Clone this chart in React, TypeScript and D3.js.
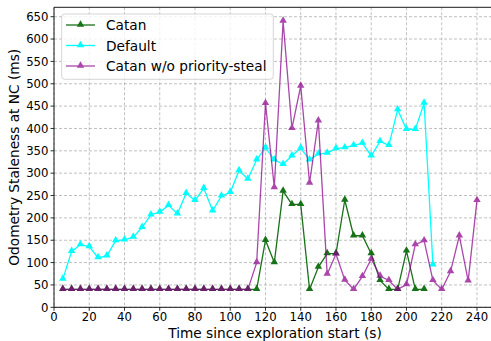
import React from "react";
import * as d3 from "d3";

const catan: [number, number][] = [
  [5, 40], [10, 40], [15, 40], [20, 40], [25, 40], [30, 40], [35, 40], [40, 40], [45, 40], [50, 40],
  [55, 40], [60, 40], [65, 40], [70, 40], [75, 40], [80, 40], [85, 40], [90, 40], [95, 40], [100, 40],
  [105, 40], [110, 40], [115, 40], [120, 150], [125, 100], [130, 260], [135, 230], [140, 230], [145, 40],
  [150, 90], [155, 120], [160, 120], [165, 240], [170, 160], [175, 160], [180, 120], [185, 60], [190, 40],
  [195, 40], [200, 126], [205, 40], [210, 40],
];

const defaultSeries: [number, number][] = [
  [5, 63], [10, 125], [15, 140], [20, 136], [25, 111], [30, 115], [35, 149], [40, 151], [45, 157], [50, 179],
  [55, 207], [60, 213], [65, 228], [70, 209], [75, 255], [80, 239], [85, 266], [90, 216], [95, 249], [100, 257],
  [105, 306], [110, 287], [115, 330], [120, 357], [125, 330], [130, 320], [135, 339], [140, 356], [145, 330],
  [150, 343], [155, 345], [160, 355], [165, 357], [170, 362], [175, 367], [180, 339], [185, 371], [190, 362],
  [195, 442], [200, 398], [205, 398], [210, 457], [215, 95],
];

const noSteal: [number, number][] = [
  [5, 40], [10, 40], [15, 40], [20, 40], [25, 40], [30, 40], [35, 40], [40, 40], [45, 40], [50, 40],
  [55, 40], [60, 40], [65, 40], [70, 40], [75, 40], [80, 40], [85, 40], [90, 40], [95, 40], [100, 40],
  [105, 40], [110, 40], [115, 100], [120, 456], [125, 268], [130, 640], [135, 400], [140, 495], [145, 278],
  [150, 417], [155, 74], [160, 119], [165, 61], [170, 40], [175, 69], [180, 108], [185, 70], [190, 60],
  [195, 40], [200, 51], [205, 140], [210, 149], [215, 60], [220, 40], [225, 80], [230, 160], [235, 59],
  [240, 239],
];

const xTicks: number[] = [0, 20, 40, 60, 80, 100, 120, 140, 160, 180, 200, 220, 240];
const yTicks: number[] = [0, 50, 100, 150, 200, 250, 300, 350, 400, 450, 500, 550, 600, 650];

const seriesNames = ["Catan", "Default", "Catan w/o priority-steal"];

export default function App() {
  const W = 491;
  const H = 341;
  const left = 54;
  const right = 494.6;
  const top = 7.3;
  const bottom = 307.3;
  const font = "'DejaVu Sans', sans-serif";

  const x = d3.scaleLinear().domain([0, 250]).range([left, right]);
  const y = d3.scaleLinear().domain([0, 671]).range([bottom, top]);

  const line = d3
    .line<[number, number]>()
    .x((d) => x(d[0]))
    .y((d) => y(d[1]));

  const series = [
    { name: seriesNames[0], data: catan, color: "#006400", opacity: 0.9 },
    { name: seriesNames[1], data: defaultSeries, color: "#00ffff", opacity: 1 },
    { name: seriesNames[2], data: noSteal, color: "#8b008b", opacity: 0.72 },
  ];

  const tri = d3.symbol().type(d3.symbolTriangle).size(24)() as string;

  return (
    <svg width={W} height={H} style={{ position: "absolute", left: 0, top: 0 }} fontFamily={font}>
      <rect x={0} y={0} width={W} height={H} fill="white" />
      <defs>
        <clipPath id="plotclip">
          <rect x={left} y={top} width={right - left} height={bottom - top} />
        </clipPath>
      </defs>
      <g stroke="#b0b0b0" strokeWidth={0.8} strokeDasharray="3,2">
        {xTicks.map((t) => (
          <line key={"gx" + t} x1={x(t)} x2={x(t)} y1={top} y2={bottom} />
        ))}
        {yTicks.map((t) => (
          <line key={"gy" + t} x1={left} x2={right} y1={y(t)} y2={y(t)} />
        ))}
      </g>
      <g clipPath="url(#plotclip)">
        {series.map((s) => (
          <g key={s.name} opacity={s.opacity}>
            <path d={line(s.data) as string} fill="none" stroke={s.color} strokeWidth={1.3} />
            {s.data.map((d, i) => (
              <path key={i} d={tri} transform={`translate(${x(d[0])},${y(d[1]) - 0.5})`} fill={s.color} />
            ))}
          </g>
        ))}
      </g>
      <g stroke="black" strokeWidth={0.9} fill="none">
        <line x1={left} x2={left} y1={top} y2={bottom} />
        <line x1={left} x2={right} y1={bottom} y2={bottom} />
        <line x1={left} x2={right} y1={top} y2={top} />
      </g>
      <g>
        {xTicks.map((t) => (
          <g key={"xt" + t}>
            <line x1={x(t)} x2={x(t)} y1={bottom} y2={bottom + 3.5} stroke="black" strokeWidth={0.8} />
            <text x={x(t)} y={bottom + 14} textAnchor="middle" fontSize={11.7} fill="black">
              {t}
            </text>
          </g>
        ))}
      </g>
      <g>
        {yTicks.map((t) => (
          <g key={"yt" + t}>
            <line x1={left - 3.5} x2={left} y1={y(t)} y2={y(t)} stroke="black" strokeWidth={0.8} />
            <text x={left - 5.5} y={y(t) + 4.2} textAnchor="end" fontSize={11.7} fill="black">
              {t}
            </text>
          </g>
        ))}
      </g>
      <text x={275} y={337.5} textAnchor="middle" fontSize={13.7} fill="black">
        Time since exploration start (s)
      </text>
      <text
        transform={`translate(18.5,${(top + bottom) / 2}) rotate(-90)`}
        textAnchor="middle"
        fontSize={13.7}
        fill="black"
      >
        Odometry Staleness at NC (ms)
      </text>
      <g>
        <rect x={61.7} y={14} width={211.6} height={65.3} rx={3} fill="white" fillOpacity={0.8} stroke="#cccccc" strokeWidth={0.8} />
        {series.map((s, i) => {
          const ly = 25 + i * 20.5;
          return (
            <g key={"lg" + s.name}>
              <g opacity={s.opacity}>
                <line x1={66} x2={95} y1={ly} y2={ly} stroke={s.color} strokeWidth={1.3} />
                <path d={tri} transform={`translate(80.5,${ly - 0.5})`} fill={s.color} />
              </g>
              <text x={106} y={ly + 5} fontSize={13.7} fill="black">
                {s.name}
              </text>
            </g>
          );
        })}
      </g>
    </svg>
  );
}
